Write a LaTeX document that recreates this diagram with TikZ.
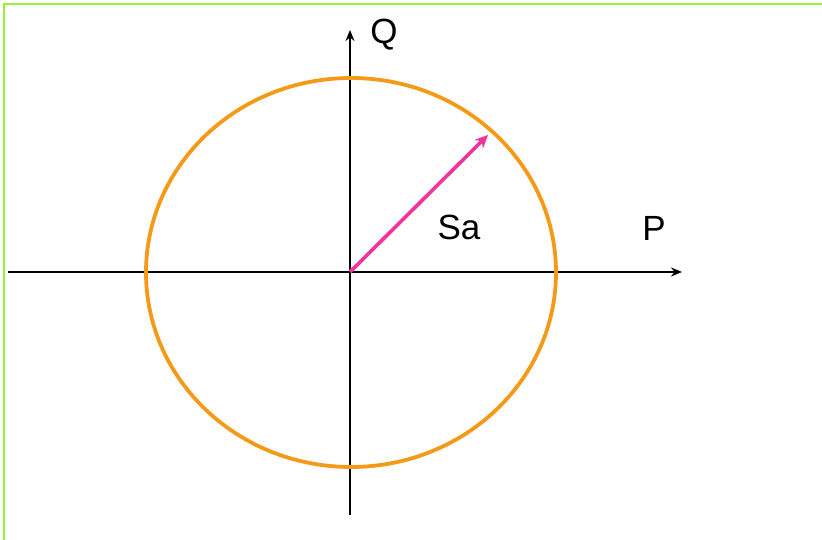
\documentclass[tikz,border=0pt]{standalone}
\usepackage{fontspec}
\setmainfont{Liberation Sans}
\usetikzlibrary{arrows.meta}
\definecolor{framegreen}{HTML}{99F23A}
\definecolor{circorange}{HTML}{F59A18}
\definecolor{vecpink}{HTML}{F0349A}

\begin{document}
\begin{tikzpicture}[x=1pt, y=1pt, every node/.style={font=\fontsize{35}{40}\selectfont}]
        \useasboundingbox (0,0) rectangle (822,540);
        \draw[framegreen,line width=2.5pt] (4,0) -- (4,536) -- (822,536);
        \coordinate (o) at (350,268);
        \coordinate (pl) at (8,268);
        \coordinate (pr) at (682,268);
        \coordinate (qb) at (350,25);
        \coordinate (qt) at (350,510);
        \coordinate (s) at (488,405);
        \draw[black,line width=2.8pt,-{Stealth[length=11pt,width=9pt]}] (pl) -- (pr);
        \draw[black,line width=2.8pt,-{Stealth[length=11pt,width=9pt]}] (qb) -- (qt);
        \draw[circorange,line width=3.8pt] (351,267.5) ellipse (205 and 194.5);
        \draw[vecpink,line width=3.6pt,-{Stealth[length=13pt,width=12pt]}] (o) -- (s);
        \node (lq) at (384,505) {Q};
        \node (lsa) at (459,313) {Sa};
        \node (lp) at (654,312) {P};
      \end{tikzpicture}
\end{document}
